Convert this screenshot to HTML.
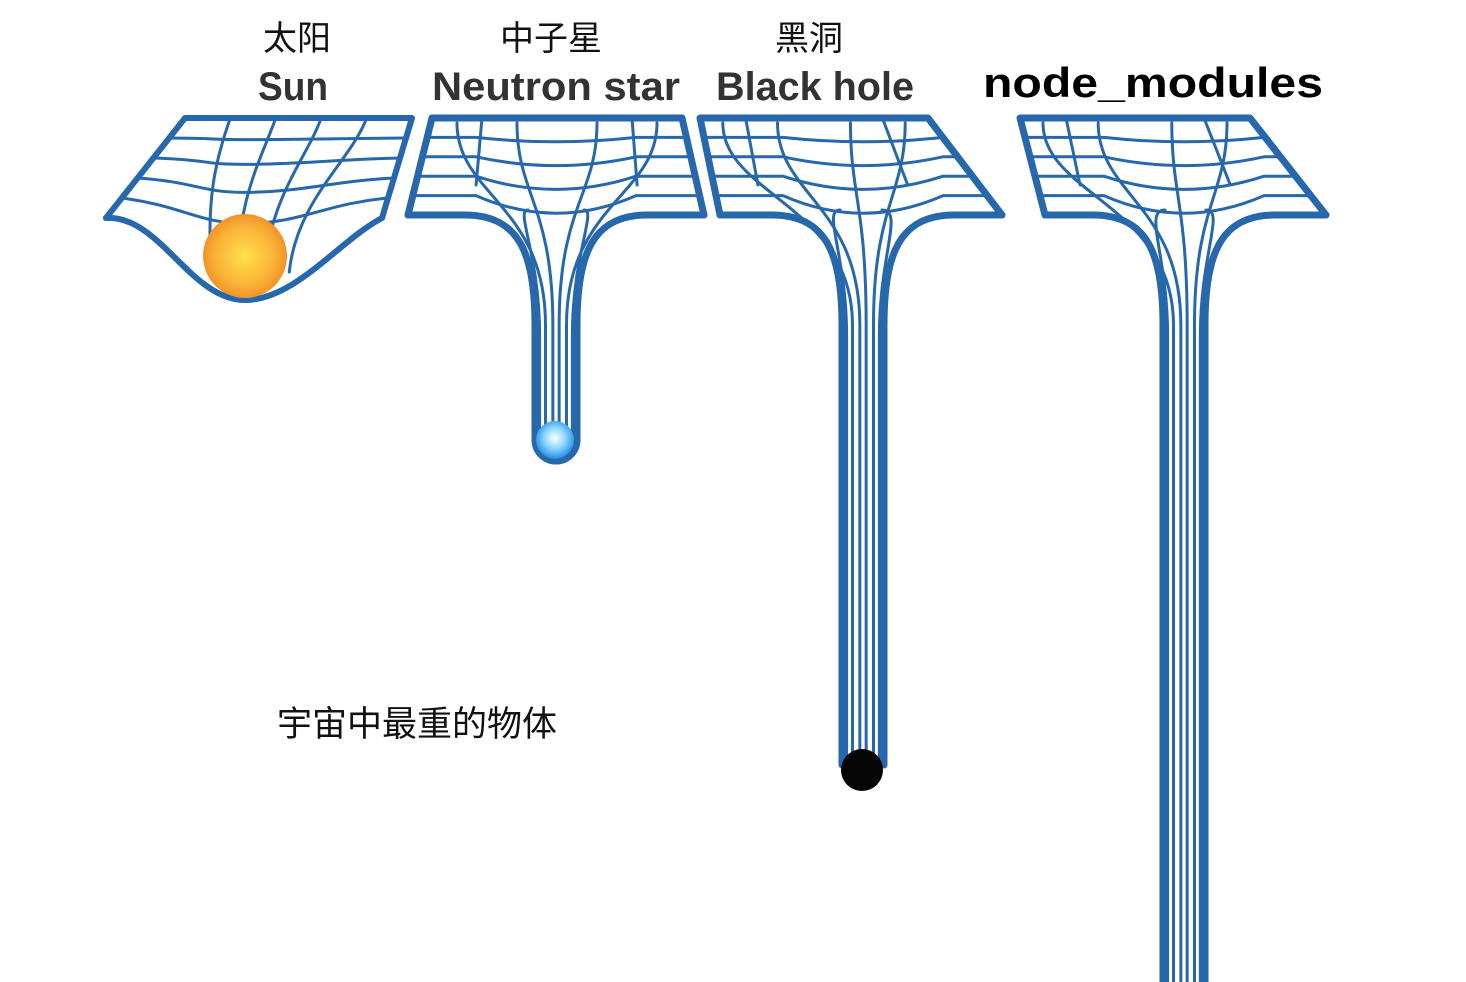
<!DOCTYPE html>
<html><head><meta charset="utf-8"><style>
html,body{margin:0;padding:0;background:#fff;width:1466px;height:982px;overflow:hidden}
svg{display:block}
</style></head><body>
<svg id="s" width="1466" height="982" viewBox="0 0 1466 982" xmlns="http://www.w3.org/2000/svg">
<defs>
<radialGradient id="sun" cx="0.5" cy="0.5" r="0.55">
<stop offset="0" stop-color="#ffe14a"/><stop offset="0.6" stop-color="#fbb53a"/><stop offset="1" stop-color="#ee8a22"/>
</radialGradient>
<radialGradient id="ns" cx="0.5" cy="0.45" r="0.55">
<stop offset="0" stop-color="#ffffff"/><stop offset="0.5" stop-color="#8fd6ff"/><stop offset="1" stop-color="#1f8fe0"/>
</radialGradient>
</defs>
<g font-family="'Liberation Sans','Noto Sans CJK SC',sans-serif">
<text x="263" y="50" font-size="34" fill="#111">太阳</text>
<text x="500" y="50" font-size="34" fill="#111">中子星</text>
<text x="775" y="50" font-size="34" fill="#111">黑洞</text>
<text x="258" y="100" font-size="40" font-weight="bold" fill="#333" textLength="70" lengthAdjust="spacingAndGlyphs">Sun</text>
<text x="432" y="100" font-size="40" font-weight="bold" fill="#333" textLength="248" lengthAdjust="spacingAndGlyphs">Neutron star</text>
<text x="716" y="100" font-size="40" font-weight="bold" fill="#333" textLength="198" lengthAdjust="spacingAndGlyphs">Black hole</text>
<text x="983" y="97" font-size="42" font-weight="bold" fill="#000" textLength="340" lengthAdjust="spacingAndGlyphs">node_modules</text>
<text x="277" y="736" font-size="35" fill="#111">宇宙中最重的物体</text>
</g>
<g id="art" fill="none" stroke="#2668ab" stroke-linecap="round" stroke-linejoin="round"></g>
</svg>
<script>
var g=document.getElementById('art');
function P(d,w){var p=document.createElementNS('http://www.w3.org/2000/svg','path');p.setAttribute('d',d);p.setAttribute('stroke-width',w);g.appendChild(p);}
function lerp(a,b,t){return a+(b-a)*t;}
(function(){
 var yt=118,yb=218,tl=185,tr=412,bl=106,br=382;
 P('M'+bl+','+yb+' L'+tl+','+yt+' L'+tr+','+yt+' L'+br+','+yb,6);
 P('M'+bl+','+yb+' C160,215 190,300 245,300 C295,300 340,240 '+br+','+yb,6);
 for(var j=1;j<5;j++){var t=j/5,y=lerp(yt,yb,t),lx=lerp(tl,bl,t),rx=lerp(tr,br,t);
  var dip=t*t*40;
  P('M'+lx+','+y+' C'+(lx+60)+','+(y+dip*0.3)+' 200,'+(y+dip)+' 245,'+(y+dip)+' C300,'+(y+dip)+' '+(rx-60)+','+(y+dip*0.2)+' '+rx+','+y,3);}
 for(var i=1;i<5;i++){var s=i/5,xt=lerp(tl,tr,s),xb=lerp(bl+40,br-20,s);
  var xm=245+(xb-245)*0.7;
  P('M'+xt+','+yt+' C'+(xt-15)+',160 '+xm+',200 '+(245+(xb-245)*0.6)+','+(260+ (1-Math.abs(s-0.5)*2)*30),3);}
})();
function funnel(cx,hw,end,tl,tr,bl,br,yt,yb,ball){
 var L=cx-hw,R=cx+hw;
 P('M'+bl+','+yb+' L'+tl+','+yt+' L'+tr+','+yt+' L'+br+','+yb,7);
 P('M'+bl+','+yb+' L'+(L-70)+','+yb+' C'+(L-15)+','+yb+' '+L+','+(yb+40)+' '+L+','+(yb+110)+' L'+L+','+end,7);
 P('M'+br+','+yb+' L'+(R+70)+','+yb+' C'+(R+15)+','+yb+' '+R+','+(yb+40)+' '+R+','+(yb+110)+' L'+R+','+end,7);
 if(ball) P('M'+L+','+end+' A'+hw+','+hw+' 0 0 0 '+R+','+end,7);
 for(var j=1;j<5;j++){var t=j/5,y=lerp(yt,yb,t),lx=lerp(tl,bl,t),rx=lerp(tr,br,t);var dip=t*22;
  P('M'+lx+','+y+' L'+(cx-80)+','+y+' Q'+cx+','+(y+dip*2)+' '+(cx+80)+','+y+' L'+rx+','+y,3);}
 [0.2,0.8].forEach(function(s){var xt=lerp(tl,tr,s),xb=lerp(bl,br,s);P('M'+xt+','+yt+' L'+(xt*0.6+xb*0.4)+','+(yb-30),3);});
 var starts=[[-0.25,0.3],[-0.1,0.1],[0.1,0.1],[0.25,0.3]];
 var xs=[L+hw*0.5,L+hw*0.85,R-hw*0.85,R-hw*0.5];
 for(var k=0;k<4;k++){var sx=lerp(tl,tr,0.5+starts[k][0]*1.6),sy=yt+5;
  P('M'+sx+','+sy+' C'+sx+','+(yb-20)+' '+xs[k]+','+(yb-10)+' '+xs[k]+','+(yb+110)+' L'+xs[k]+','+end,3);}
 P('M'+(bl+120)+','+(yb-5)+' C'+(L-20)+','+(yb-5)+' '+(L+hw*0.22)+','+(yb+40)+' '+(L+hw*0.22)+','+(yb+120)+' L'+(L+hw*0.22)+','+end,3);
 P('M'+(br-120)+','+(yb-5)+' C'+(R+20)+','+(yb-5)+' '+(R-hw*0.22)+','+(yb+40)+' '+(R-hw*0.22)+','+(yb+120)+' L'+(R-hw*0.22)+','+end,3);
}
funnel(556,21,440,432,682,408,704,118,215,true);
funnel(863,21,765,700,928,720,1002,118,215,false);
funnel(1184,21,982,1020,1250,1045,1326,118,215,false);
var s=document.getElementById('s');
function C(cx,cy,r,f){var c=document.createElementNS('http://www.w3.org/2000/svg','circle');c.setAttribute('cx',cx);c.setAttribute('cy',cy);c.setAttribute('r',r);c.setAttribute('fill',f);s.appendChild(c);}
C(245,256,42,'url(#sun)');
C(555,440,19,'url(#ns)');
C(862,770,21,'#050505');
</script>
</body></html>
